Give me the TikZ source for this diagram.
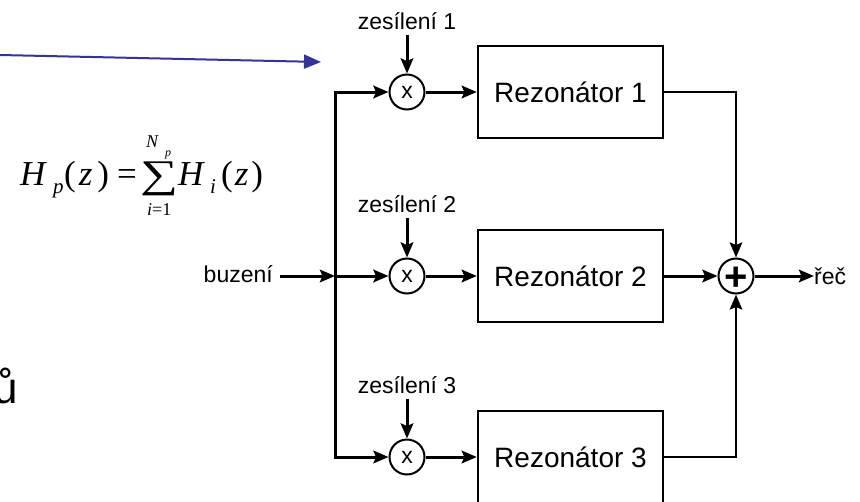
\documentclass[tikz,border=0pt]{standalone}
\usepackage{fontspec}
\setmainfont{Liberation Sans}
\newfontfamily\tms{Liberation Serif}
\usepackage{graphicx}
\usetikzlibrary{arrows.meta,calc}
\definecolor{arrowblue}{RGB}{51,51,153}
\begin{document}
\begin{tikzpicture}[x=1pt,y={(0pt,-1pt)},
  lbl/.style={inner sep=0pt, font=\fontsize{23}{27}\selectfont},
  mult/.style={circle, draw, line width=2pt, minimum size=35pt, inner sep=0pt, font=\fontsize{23}{27}\selectfont},
  resbox/.style={draw, line width=2.4pt, minimum width=185pt, minimum height=92pt, inner sep=0pt, font=\fontsize{28}{32}\selectfont},
  sig/.style={line width=3pt, line join=miter, -{Stealth[length=15pt,width=12.5pt,inset=2.5pt]}},
  thinsig/.style={line width=2.4pt, line join=miter, -{Stealth[length=15pt,width=12.5pt,inset=2.5pt]}},
  bluearr/.style={line width=2pt, arrowblue, -{Triangle[length=17pt,width=14pt]}},
  fbig/.style={inner sep=0pt, anchor=base west, font=\tms\fontsize{35}{38}\selectfont},
  fsub/.style={inner sep=0pt, anchor=base west, font=\tms\fontsize{21}{24}\selectfont\itshape},
  flim/.style={inner sep=0pt, anchor=base west, font=\tms\fontsize{18}{20}\selectfont},
  flimsub/.style={inner sep=0pt, anchor=base west, font=\tms\fontsize{12}{14}\selectfont\itshape}
]
\useasboundingbox (0,0) rectangle (860,501);
\clip (0,0) rectangle (860,501);

% blue arrow
\coordinate (bstart) at (0,55);
\coordinate (bend) at (321,62);
\draw[bluearr] (bstart) -- (bend);

% formula  H_p(z) = sum_{i=1}^{N_p} H_i(z)
\node[fbig] (fH1) at (20,185) {\itshape H};
\node[fsub] (fp1) at (53,193) {p};
\node[fbig] (fz1) at (64,185) {(\hspace{3pt}\itshape z\hspace{5pt}\upshape)};
\node[fbig] (feq) at (117,185) {=};
\node[inner sep=0pt] (fsum) at (159.5,179) {\resizebox*{38pt}{34pt}{\tms ∑}};
\node[flim] (fN) at (146,147) {\itshape N};
\node[flimsub] (fNp) at (165,156) {p};
\node[flim] (fi) at (147,215) {\itshape i\upshape =1};
\node[fbig] (fH2) at (178,185) {\itshape H};
\node[fsub] (fi2) at (210,193) {i};
\node[fbig] (fz2) at (221,185) {(\hspace{2pt}\itshape z\hspace{3pt}\upshape)};

% cut-off slide text
\node[anchor=base east, inner sep=0pt, font=\fontsize{44}{50}\selectfont] (u) at (18,403) {ů};

% multipliers
\node[mult] (m1) at (407,92) {x};
\node[mult] (m2) at (407,276) {x};
\node[mult] (m3) at (407,457) {x};

% gain labels
\node[lbl, anchor=base] (z1) at (407,29) {zesílení 1};
\node[lbl, anchor=base] (z2) at (407,212) {zesílení 2};
\node[lbl, anchor=base] (z3) at (407,393) {zesílení 3};
\draw[sig, shorten <=6pt] (z1) -- (m1);
\draw[sig, shorten <=6pt] (z2) -- (m2);
\draw[sig, shorten <=6pt] (z3) -- (m3);

% resonators
\node[resbox] (r1) at (570.5,92) {Rezonátor 1};
\node[resbox] (r2) at (570.5,276) {Rezonátor 2};
\node[resbox] (r3) at (570.5,457) {Rezonátor 3};

% input and bus
\node[lbl, anchor=base east] (buz) at (273,282) {buzení};
\coordinate (j2) at (335,276);
\draw[sig] ([xshift=7pt]buz.east |- j2) -- (j2);
\draw[sig] (j2) |- (m1);
\draw[sig] (j2) |- (m3);
\draw[sig] (j2) -- (m2);

% multipliers to resonators
\draw[sig] (m1) -- (r1);
\draw[sig] (m2) -- (r2);
\draw[sig] (m3) -- (r3);

% summation
\node[mult] (sum) at (736,276) {};
\node[inner sep=0pt, font=\fontsize{40}{44}\selectfont\bfseries, yshift=-2.4pt] (plus) at (sum) {+};
\draw[thinsig] (r1) -| (sum);
\draw[thinsig] (r3) -| (sum);
\draw[sig] (r2) -- (sum);

% output
\node[lbl, anchor=west] (out) at (814,276) {řeč};
\draw[sig] (sum) -- (out);
\end{tikzpicture}
\end{document}
